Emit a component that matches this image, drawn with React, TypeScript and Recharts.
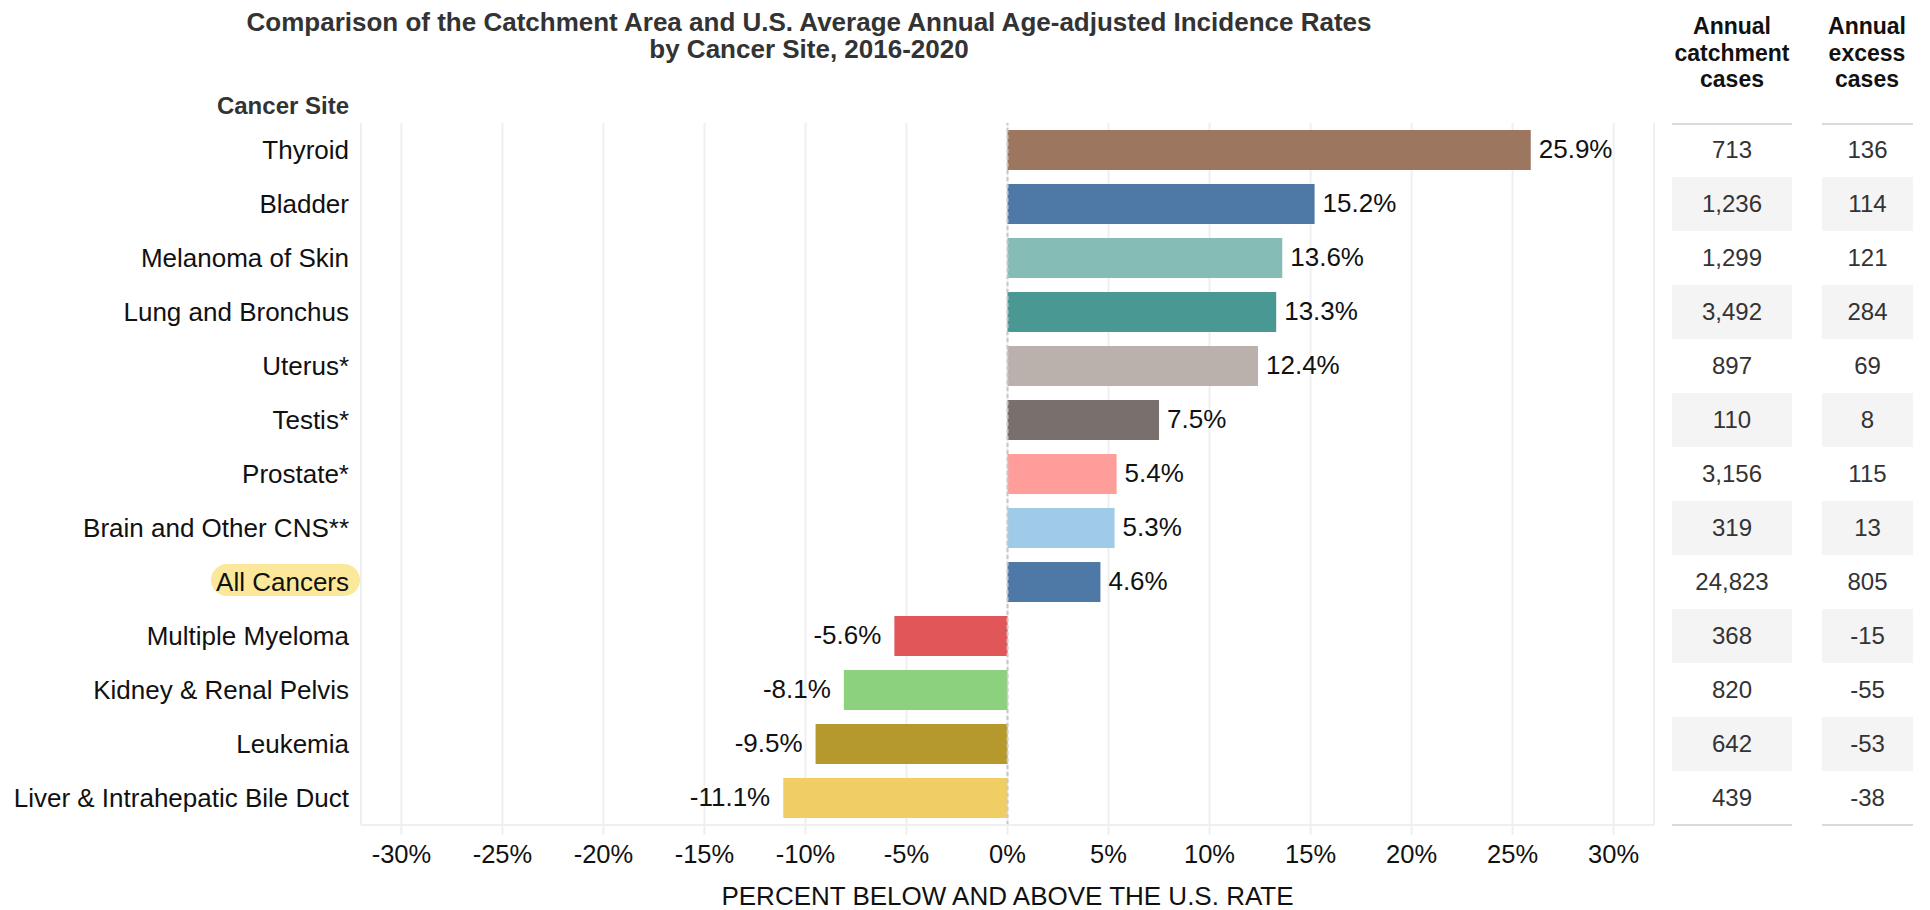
import React from 'react';
import {
  BarChart,
  Bar,
  Cell,
  XAxis,
  YAxis,
  CartesianGrid,
  ReferenceLine,
  LabelList,
  Label,
} from 'recharts';

const sites = [
  'Thyroid',
  'Bladder',
  'Melanoma of Skin',
  'Lung and Bronchus',
  'Uterus*',
  'Testis*',
  'Prostate*',
  'Brain and Other CNS**',
  'All Cancers',
  'Multiple Myeloma',
  'Kidney & Renal Pelvis',
  'Leukemia',
  'Liver & Intrahepatic Bile Duct',
];

const percentDiff = [25.9, 15.2, 13.6, 13.3, 12.4, 7.5, 5.4, 5.3, 4.6, -5.6, -8.1, -9.5, -11.1];

const catchmentCases = [713, 1236, 1299, 3492, 897, 110, 3156, 319, 24823, 368, 820, 642, 439];

const excessCases = [136, 114, 121, 284, 69, 8, 115, 13, 805, -15, -55, -53, -38];

const barColors = [
  '#9d7660',
  '#4e79a7',
  '#86bcb6',
  '#499894',
  '#bab0ac',
  '#79706e',
  '#ff9d9a',
  '#a0cbe8',
  '#4e79a7',
  '#e15759',
  '#8cd17d',
  '#b6992d',
  '#f1ce63',
];

const xTicks = [-30, -25, -20, -15, -10, -5, 0, 5, 10, 15, 20, 25, 30];

const highlightSite = 'All Cancers';

const FONT = '"Liberation Sans", Arial, Helvetica, sans-serif';

const data = sites.map((site, i) => ({
  site,
  pct: percentDiff[i],
}));

function SiteTick(props: any) {
  const { x, y, payload } = props;
  const isHighlight = payload.value === highlightSite;
  return (
    <g>
      {isHighlight && (
        <rect x={x - 138} y={y - 18} width={149} height={32} rx={16} ry={16} fill="#fce89b" />
      )}
      <text
        x={x}
        y={y}
        dy="0.355em"
        textAnchor="end"
        fontSize={26}
        fontFamily={FONT}
        fill="#111"
      >
        {payload.value}
      </text>
    </g>
  );
}

function TableTick(props: any) {
  const { x, y, payload } = props;
  const i = sites.indexOf(payload.value);
  const rowH = 54;
  const col1 = { left: x + 18, width: 120 };
  const col2 = { left: x + 168, width: 91 };
  return (
    <g fontFamily={FONT} fontSize={24} fill="#333">
      {i % 2 === 1 && (
        <>
          <rect x={col1.left} y={y - rowH / 2} width={col1.width} height={rowH} fill="#f4f4f4" />
          <rect x={col2.left} y={y - rowH / 2} width={col2.width} height={rowH} fill="#f4f4f4" />
        </>
      )}
      {i === 0 && (
        <>
          <line x1={col1.left} x2={col1.left + col1.width} y1={y - 26} y2={y - 26} stroke="#cccccc" strokeWidth={1.5} />
          <line x1={col2.left} x2={col2.left + col2.width} y1={y - 26} y2={y - 26} stroke="#cccccc" strokeWidth={1.5} />
        </>
      )}
      {i === sites.length - 1 && (
        <>
          <line x1={col1.left} x2={col1.left + col1.width} y1={y + 27} y2={y + 27} stroke="#cccccc" strokeWidth={1.5} />
          <line x1={col2.left} x2={col2.left + col2.width} y1={y + 27} y2={y + 27} stroke="#cccccc" strokeWidth={1.5} />
        </>
      )}
      <text x={col1.left + col1.width / 2} y={y} dy="0.33em" textAnchor="middle">
        {catchmentCases[i].toLocaleString('en-US')}
      </text>
      <text x={col2.left + col2.width / 2} y={y} dy="0.33em" textAnchor="middle">
        {excessCases[i].toLocaleString('en-US')}
      </text>
    </g>
  );
}

function BarValueLabel(props: any) {
  const { x, y, width, height, value } = props;
  const left = Math.min(x, x + width);
  const right = Math.max(x, x + width);
  const positive = value >= 0;
  return (
    <text
      x={positive ? right + 8 : left - 13}
      y={y + height / 2}
      dy="0.32em"
      textAnchor={positive ? 'start' : 'end'}
      fontSize={26}
      fontFamily={FONT}
      fill="#111"
    >
      {`${Number(value).toFixed(1)}%`}
    </text>
  );
}

const headerStyle: React.CSSProperties = {
  position: 'absolute',
  top: 13,
  fontFamily: FONT,
  fontWeight: 'bold',
  fontSize: 23,
  lineHeight: '26.5px',
  color: '#111',
  textAlign: 'center',
  transform: 'translateX(-50%)',
  whiteSpace: 'nowrap',
};

export default function App() {
  return (
    <div style={{ position: 'absolute', left: 0, top: 0, width: 1930, height: 910, background: '#fff' }}>
      <div
        style={{
          position: 'absolute',
          top: 9,
          left: 809,
          transform: 'translateX(-50%)',
          fontFamily: FONT,
          fontWeight: 'bold',
          fontSize: 26,
          lineHeight: '27px',
          color: '#333',
          textAlign: 'center',
          whiteSpace: 'nowrap',
        }}
      >
        Comparison of the Catchment Area and U.S. Average Annual Age-adjusted Incidence Rates
        <br />
        by Cancer Site, 2016-2020
      </div>
      <div
        style={{
          position: 'absolute',
          top: 92,
          right: 1930 - 349,
          fontFamily: FONT,
          fontWeight: 'bold',
          fontSize: 24,
          lineHeight: '28px',
          color: '#333',
          whiteSpace: 'nowrap',
        }}
      >
        Cancer Site
      </div>
      <div style={{ ...headerStyle, left: 1732 }}>
        Annual
        <br />
        catchment
        <br />
        cases
      </div>
      <div style={{ ...headerStyle, left: 1867 }}>
        Annual
        <br />
        excess
        <br />
        cases
      </div>
      <BarChart
        width={1930}
        height={910}
        data={data}
        layout="vertical"
        margin={{ top: 123, right: 0, bottom: 0, left: 0 }}
      >
        <CartesianGrid horizontal={false} stroke="#efefef" strokeWidth={2} />
        <XAxis
          type="number"
          dataKey="pct"
          domain={[-32, 32]}
          ticks={xTicks}
          interval={0}
          height={85}
          tickSize={10}
          tickMargin={10}
          tickLine={{ stroke: '#efefef', strokeWidth: 2 }}
          axisLine={{ stroke: '#efefef', strokeWidth: 2 }}
          tickFormatter={(v: number) => `${v}%`}
          tick={{ fontSize: 25.5, fontFamily: FONT, fill: '#111' }}
        >
          <Label
            value="PERCENT BELOW AND ABOVE THE U.S. RATE"
            position="insideBottom"
            offset={5}
            style={{ fontSize: 26, fontFamily: FONT, fill: '#111' }}
          />
        </XAxis>
        <YAxis
          yAxisId="sites"
          type="category"
          dataKey="site"
          width={361}
          interval={0}
          tickLine={false}
          tickSize={0}
          tickMargin={12}
          axisLine={{ stroke: '#efefef', strokeWidth: 2 }}
          tick={<SiteTick />}
        />
        <YAxis
          yAxisId="table"
          type="category"
          dataKey="site"
          orientation="right"
          width={276}
          interval={0}
          tickLine={false}
          tickSize={0}
          tickMargin={0}
          axisLine={false}
          tick={<TableTick />}
        />
        <Bar dataKey="pct" yAxisId="sites" barSize={40} isAnimationActive={false}>
          {data.map((d, i) => (
            <Cell key={d.site} fill={barColors[i]} />
          ))}
          <LabelList dataKey="pct" content={<BarValueLabel />} />
        </Bar>
        <ReferenceLine x={0} yAxisId="sites" stroke="#c8c8c8" strokeWidth={2} strokeDasharray="4 3" />
      </BarChart>
    </div>
  );
}
